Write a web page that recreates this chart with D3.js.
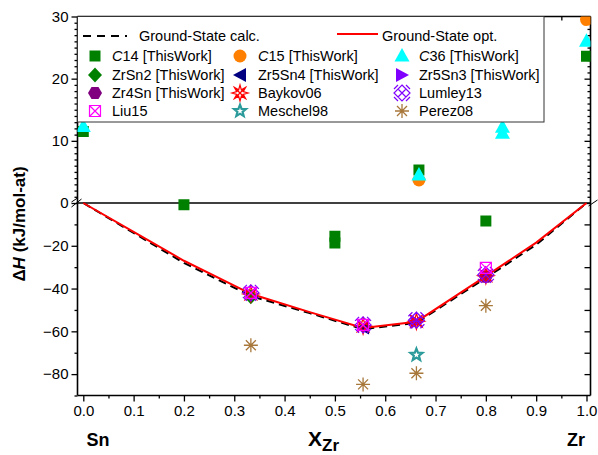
<!DOCTYPE html>
<html><head><meta charset="utf-8">
<script src="https://cdn.jsdelivr.net/npm/d3@7"></script>
<style>body{margin:0;background:#fff}svg{display:block}text{font-family:"Liberation Sans",Arial,sans-serif}</style>
</head><body><svg id="c" width="598" height="455"></svg>
<script>
// ---------- data ----------
const xTicks = [0,0.1,0.2,0.3,0.4,0.5,0.6,0.7,0.8,0.9,1.0];
const yUpTicks = [0,10,20,30];
const yLoTicks = [-20,-40,-60,-80];
const calcX = [0,0.1,0.2,0.333,0.45,0.556,0.662,0.8,0.9,1];
const calcY = [0,-14,-28,-43.5,-51.5,-59,-56,-35,-19.5,0];
const optX  = [0,0.1,0.2,0.333,0.45,0.556,0.662,0.8,0.9,1];
const optY  = [0,-13.5,-27,-42.5,-51,-58.4,-55.5,-34.2,-18.5,0];
const c14X = [0,0.2,0.5,0.5,0.667,0.8,1.0];
const c14Y = [11.5,-0.8,-15.5,-18.7,5.3,-8.4,23.6];
const c15X = [0.667,1.0];
const c15Y = [3.7,29.5];
const c36X = [0,0.667,0.833,0.833,1.0];
const c36Y = [12.3,4.5,12.2,11.2,26];
const zrsn2X = [0.333], zrsn2Y = [-43.8];
const zr5sn4X = [0.556], zr5sn4Y = [-58.2];
const zr5sn3X = [0.662], zr5sn3Y = [-55.6];
const zr4snX = [0.8], zr4snY = [-34.4];
const baykovX = [0.333,0.556,0.662,0.8], baykovY = [-42.5,-57.5,-55.3,-34];
const lumleyX = [0.333,0.556,0.662,0.8], lumleyY = [-42,-57,-54.8,-33.6];
const liuX = [0.333,0.556,0.8], liuY = [-42,-57,-30.3];
const meschelX = [0.662], meschelY = [-71];
const perezX = [0.333,0.556,0.662,0.8], perezY = [-66.5,-84.8,-79.6,-48];

// ---------- layout ----------
const svg = d3.select("#c");
const L = 77.5, R = 590.5, T = 16.5, B = 395.5, Y0 = 203;
const x = d3.scaleLinear().domain([0,1]).range([83.3,586.5]);
const yUp = d3.scaleLinear().domain([0,30]).range([Y0,T]);
const yLo = d3.scaleLinear().domain([0,-90]).range([Y0,B]);
const y = v => v >= 0 ? yUp(v) : yLo(v);

svg.append("defs").append("clipPath").attr("id","clip")
  .append("rect").attr("x",L).attr("y",T).attr("width",R-L).attr("height",B-T);

// ---------- axes ----------
const axG = svg.append("g");
function ax(axis, tx, ty){
  const g = axG.append("g").attr("transform",`translate(${tx},${ty})`).call(axis);
  g.select(".domain").remove();
  g.selectAll("line").attr("stroke","#000").attr("stroke-width",1.3);
  g.selectAll("text").attr("font-size",15).attr("fill","#000");
  return g;
}
ax(d3.axisBottom(x).tickValues(xTicks).tickFormat(d3.format(".1f")).tickSize(6).tickPadding(4), 0, B);
ax(d3.axisBottom(x).tickValues(d3.range(0.05,1,0.1)).tickFormat("").tickSize(3), 0, B);
ax(d3.axisBottom(x).tickValues(d3.range(0,1.01,0.05)).tickFormat("").tickSize(4), 0, T);
ax(d3.axisLeft(yUp).tickValues(yUpTicks).tickFormat(d3.format("d")).tickSize(6).tickPadding(3), L, 0);
ax(d3.axisLeft(yUp).tickValues(d3.range(1,30,1).filter(v=>v%10)).tickFormat("").tickSize(3), L, 0);
ax(d3.axisLeft(yLo).tickValues(yLoTicks).tickFormat(d3.format("d")).tickSize(6).tickPadding(3), L, 0);
ax(d3.axisLeft(yLo).tickValues([-10,-30,-50,-70,-90]).tickFormat("").tickSize(3), L, 0);
ax(d3.axisLeft(yUp).tickValues(yUpTicks).tickFormat("").tickSize(6), R, 0);
ax(d3.axisLeft(yUp).tickValues(d3.range(1,30,1).filter(v=>v%10)).tickFormat("").tickSize(3), R, 0);
ax(d3.axisLeft(yLo).tickValues([-10,-20,-30,-40,-50,-60,-70,-80]).tickFormat("").tickSize(6), R, 0);

const fr = svg.append("g").attr("stroke","#000").attr("stroke-width",1.6).attr("fill","none");
fr.append("line").attr("x1",L).attr("x2",L).attr("y1",T).attr("y2",B);
fr.append("line").attr("x1",R).attr("x2",R).attr("y1",T).attr("y2",B);
fr.append("line").attr("x1",L).attr("x2",R).attr("y1",B).attr("y2",B);
fr.append("line").attr("x1",L).attr("x2",R).attr("y1",T).attr("y2",T);
fr.append("line").attr("x1",L).attr("x2",R).attr("y1",Y0).attr("y2",Y0);
fr.append("path").attr("d",`M${L-6},${Y0+4}L${L+4},${Y0-4}M${L-6},${Y0-1}L${L},${Y0-5}`).attr("stroke-width",1);
fr.append("path").attr("d",`M${R-2},${Y0+3}L${R+7},${Y0-3}`).attr("stroke-width",1);

// ---------- lines ----------
const plot = svg.append("g").attr("clip-path","url(#clip)");
const line = d3.line().x(d=>x(d[0])).y(d=>y(d[1]));
plot.append("path").datum(d3.zip(calcX,calcY)).attr("d",line)
  .attr("fill","none").attr("stroke","#000").attr("stroke-width",2).attr("stroke-dasharray","8,5");
plot.append("path").datum(d3.zip(optX,optY)).attr("d",line)
  .attr("fill","none").attr("stroke","#ff0000").attr("stroke-width",2);

// ---------- symbols ----------
function star(n, ro, ri){
  const p=[];for(let i=0;i<2*n;i++){const r=i%2?ri:ro,a=Math.PI*i/n-Math.PI/2;p.push([r*Math.cos(a),r*Math.sin(a)]);}
  return "M"+p.map(q=>q.join(",")).join("L")+"Z";
}
function poly(n, r, rot){
  const p=[];for(let i=0;i<n;i++){const a=2*Math.PI*i/n+rot;p.push([r*Math.cos(a),r*Math.sin(a)]);}
  return "M"+p.map(q=>q.join(",")).join("L")+"Z";
}
const sym = {
  square:  {d:"M-5.5,-5.5h11v11h-11Z", fill:true},
  circle:  {d:"M6.5,0A6.5,6.5 0 1 1 -6.5,0A6.5,6.5 0 1 1 6.5,0Z", fill:true},
  tri:     {d:"M0,-8L7.5,5.5L-7.5,5.5Z", fill:true},
  diamond: {d:"M0,-7.5L7,0L0,7.5L-7,0Z", fill:true},
  ltri:    {d:"M-7,0L6,-7L6,7Z", fill:true},
  rtri:    {d:"M7,0L-6,-7L-6,7Z", fill:true},
  hex:     {d:poly(6,7,0), fill:true},
  baykov:  {d:star(8,8,3.5)+"M-6,-6L6,6M-6,6L6,-6", fill:false, w:1.2},
  lumley:  {d:"M0,-8L8,0L0,8L-8,0ZM-4,-4L4,4M-4,4L4,-4M-8,-4L-4,-8M4,-8L8,-4M-8,4L-4,8M4,8L8,4", fill:false, w:1.2},
  liu:     {d:"M-5.5,-5.5h11v11h-11ZM-5.5,-5.5L5.5,5.5M-5.5,5.5L5.5,-5.5", fill:false, w:1.2},
  meschel: {d:star(5,6.3,2.7), fill:false, w:2.2},
  perez:   {d:"M-7,0H7M0,-7V7M-5,-5L5,5M-5,5L5,-5", fill:false, w:1.3}
};
const series = [
  {label:["C","14 [ThisWork]"], s:"square", c:"#008000", X:c14X, Y:c14Y},
  {label:["C","15 [ThisWork]"], s:"circle", c:"#ff8000", X:c15X, Y:c15Y},
  {label:["C","36 [ThisWork]"], s:"tri", c:"#00ffff", X:c36X, Y:c36Y},
  {label:["","ZrSn2 [ThisWork]"], s:"diamond", c:"#008000", X:zrsn2X, Y:zrsn2Y},
  {label:["","Zr5Sn4 [ThisWork]"], s:"ltri", c:"#000080", X:zr5sn4X, Y:zr5sn4Y},
  {label:["","Zr5Sn3 [ThisWork]"], s:"rtri", c:"#8000ff", X:zr5sn3X, Y:zr5sn3Y},
  {label:["","Zr4Sn [ThisWork]"], s:"hex", c:"#800080", X:zr4snX, Y:zr4snY},
  {label:["","Baykov06"], s:"baykov", c:"#ff0000", X:baykovX, Y:baykovY},
  {label:["","Lumley13"], s:"lumley", c:"#8000ff", X:lumleyX, Y:lumleyY},
  {label:["","Liu15"], s:"liu", c:"#ff00ff", X:liuX, Y:liuY},
  {label:["","Meschel98"], s:"meschel", c:"#2a9a9a", X:meschelX, Y:meschelY},
  {label:["","Perez08"], s:"perez", c:"#a8773a", X:perezX, Y:perezY}
];
function drawSym(g, s, c){
  const o = sym[s];
  g.append("path").attr("d",o.d)
    .attr("fill",o.fill?c:"none").attr("stroke",o.fill?"none":c).attr("stroke-width",o.w||1);
}
series.forEach(se=>{
  d3.zip(se.X,se.Y).forEach(p=>{
    const g = plot.append("g").attr("transform",`translate(${x(p[0])},${y(p[1])})`);
    drawSym(g, se.s, se.c);
  });
});

// ---------- legend ----------
const lg = svg.append("g");
lg.append("rect").attr("x",L).attr("y",T).attr("width",544-L).attr("height",122-T)
  .attr("fill","#fff").attr("stroke","#333").attr("stroke-width",1);
lg.append("line").attr("x1",83).attr("x2",127).attr("y1",36).attr("y2",36)
  .attr("stroke","#000").attr("stroke-width",2).attr("stroke-dasharray","8,6");
lg.append("text").attr("x",139).attr("y",41).attr("font-size",14.5).text("Ground-State calc.");
lg.append("line").attr("x1",337).attr("x2",378).attr("y1",34).attr("y2",34)
  .attr("stroke","#ff0000").attr("stroke-width",2);
lg.append("text").attr("x",382).attr("y",41).attr("font-size",14.5).text("Ground-State opt.");
const colS = [95,240,402], colT = [112,258,419], rowY = [56,75,93,111];
series.forEach((se,i)=>{
  const r = Math.floor(i/3), c = i%3;
  const g = lg.append("g").attr("transform",`translate(${colS[c]},${rowY[r]})`);
  drawSym(g, se.s, se.c);
  const t = lg.append("text").attr("x",colT[c]).attr("y",rowY[r]+5).attr("font-size",14.5);
  if (se.label[0]) t.append("tspan").attr("font-style","italic").text(se.label[0]);
  t.append("tspan").text(se.label[1]);
});

// ---------- titles ----------
const yl = svg.append("text").attr("transform","translate(25,224) rotate(-90)")
  .attr("text-anchor","middle").attr("font-size",17).attr("font-weight","bold");
yl.append("tspan").text("Δ");
yl.append("tspan").attr("font-style","italic").text("H");
yl.append("tspan").text(" (kJ/mol-at)");
const xl = svg.append("text").attr("x",308).attr("y",446).attr("font-size",21).attr("font-weight","bold");
xl.append("tspan").text("X");
xl.append("tspan").attr("font-size",17).attr("dy",5).text("Zr");
svg.append("text").attr("x",98).attr("y",446).attr("text-anchor","middle").attr("font-size",18).attr("font-weight","bold").text("Sn");
svg.append("text").attr("x",576).attr("y",446).attr("text-anchor","middle").attr("font-size",18).attr("font-weight","bold").text("Zr");
</script></body></html>
